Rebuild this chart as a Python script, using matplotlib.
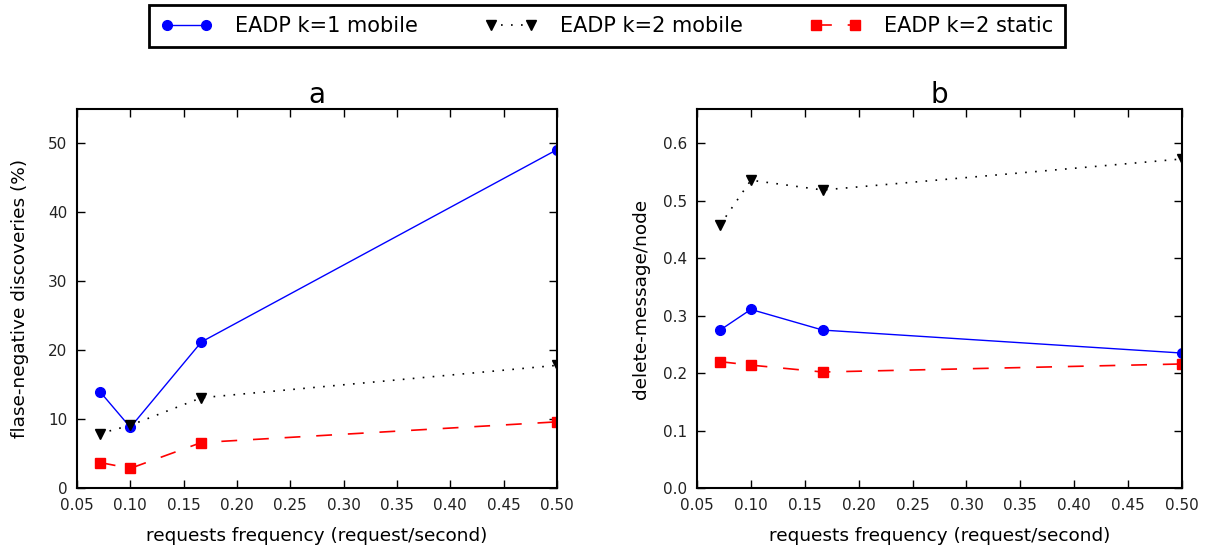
import matplotlib
matplotlib.use("Agg")
import matplotlib.pyplot as plt

# request frequencies (requests per second)
freq = [1/14, 0.10, 1/6, 0.50]

# panel a: false-negative discoveries (%)
fn_k1_mobile = [14.0, 8.8, 21.2, 49.1]
fn_k2_mobile = [7.9, 9.1, 13.1, 17.8]
fn_k2_static = [3.7, 2.85, 6.6, 9.6]

# panel b: delete messages per node
dm_k1_mobile = [0.275, 0.311, 0.275, 0.235]
dm_k2_mobile = [0.458, 0.536, 0.519, 0.573]
dm_k2_static = [0.220, 0.214, 0.202, 0.216]

labels = ["EADP k=1 mobile", "EADP k=2 mobile", "EADP k=2 static"]
xticks = [0.05, 0.10, 0.15, 0.20, 0.25, 0.30, 0.35, 0.40, 0.45, 0.50]

plt.rcParams["font.family"] = "DejaVu Sans"

fig = plt.figure(figsize=(12.05, 5.51), dpi=100, facecolor="white")
W, H = 1205, 551
ax_a = fig.add_axes([77 / W, 1 - 488 / H, (557 - 77) / W, (488 - 109) / H])
ax_b = fig.add_axes([697 / W, 1 - 488 / H, (1182 - 697) / W, (488 - 109) / H])

styles = [
    dict(color="blue", linestyle="-", marker="o", linewidth=1.0),
    dict(color="black", linestyle=(0, (1.0, 5.0)), marker="v", linewidth=1.2),
    dict(color="red", linestyle=(0, (9.5, 9.5)), marker="s", linewidth=1.2),
]
common = dict(markersize=7, markeredgewidth=1.0)

handles = []
for ys, st, lab in zip([fn_k1_mobile, fn_k2_mobile, fn_k2_static], styles, labels):
    h, = ax_a.plot(freq, ys, label=lab, markeredgecolor=st["color"], **st, **common)
    handles.append(h)
for ys, st in zip([dm_k1_mobile, dm_k2_mobile, dm_k2_static], styles):
    ax_b.plot(freq, ys, markeredgecolor=st["color"], **st, **common)

for ax, title, ylabel, ylim, lx in [
    (ax_a, "a", "flase-negative discoveries (%)", (0, 55), -0.101),
    (ax_b, "b", "delete-message/node", (0, 0.66), -0.097),
]:
    ax.set_xlim(0.05, 0.50)
    ax.set_ylim(*ylim)
    ax.set_xticks(xticks)
    ax.set_xticklabels([f"{t:.2f}" for t in xticks])
    ax.set_title(title, fontsize=20, pad=4)
    ax.set_xlabel("requests frequency (request/second)", fontsize=13.3, labelpad=10)
    ax.set_ylabel(ylabel, fontsize=13.3)
    ax.yaxis.set_label_coords(lx, 0.5)
    ax.tick_params(direction="in", top=True, right=True, length=6, width=1,
                   labelsize=11, pad=7, colors="black", labelcolor="#222222")
    for sp in ax.spines.values():
        sp.set_linewidth(1.5)

ax_a.set_yticks([0, 10, 20, 30, 40, 50])
ax_b.set_yticks([0.0, 0.1, 0.2, 0.3, 0.4, 0.5, 0.6])
ax_b.set_yticklabels([f"{t:.1f}" for t in [0.0, 0.1, 0.2, 0.3, 0.4, 0.5, 0.6]])

leg = fig.legend(handles, labels, loc="center", bbox_to_anchor=(607 / W, 1 - 26 / H),
                 ncol=3, fontsize=15, frameon=True, fancybox=False, framealpha=1,
                 edgecolor="black", borderpad=0.55, columnspacing=3.2,
                 handlelength=2.5, handletextpad=1.1, numpoints=2)
leg.get_frame().set_linewidth(2)

fig.savefig("out.png", dpi=100, facecolor="white")
